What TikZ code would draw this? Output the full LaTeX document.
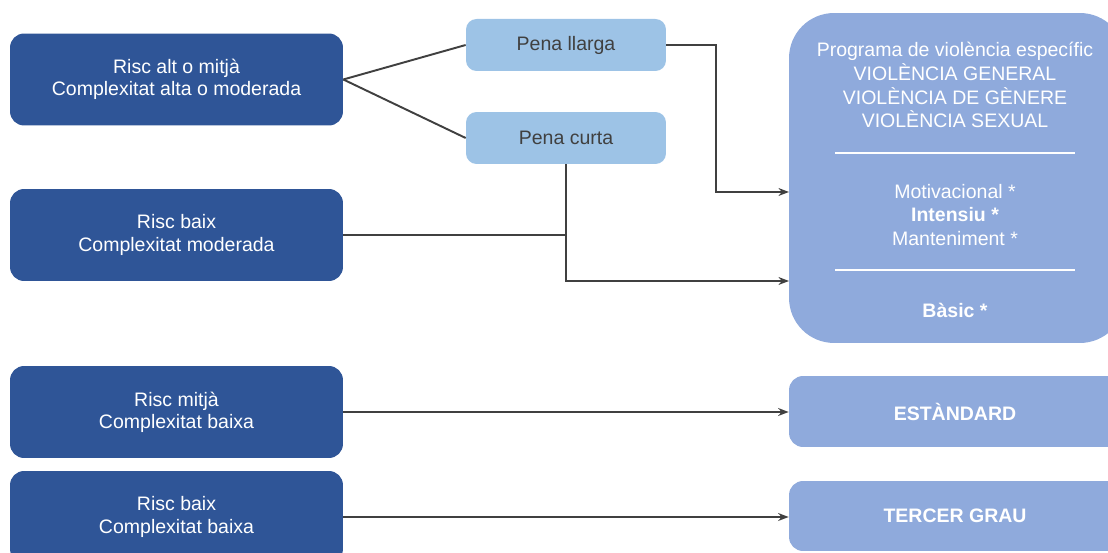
\documentclass[tikz,border=0pt]{standalone}
\usepackage{fontspec}
\setmainfont{Liberation Sans}
\usetikzlibrary{arrows.meta}

\definecolor{fosc}{HTML}{2F5597}
\definecolor{clar}{HTML}{9DC3E6}
\definecolor{prog}{HTML}{8FAADC}
\definecolor{linia}{HTML}{404040}

\tikzset{
  perfil/.style={fill=fosc, text=white, rounded corners=8pt, align=center,
    minimum width=6.66cm, minimum height=1.84cm, inner sep=0pt,
    font=\fontsize{11.1}{12.6}\selectfont},
  pena/.style={fill=clar, text=linia, rounded corners=6pt,
    minimum width=4cm, minimum height=1.04cm, inner sep=0pt,
    font=\fontsize{11.1}{12.6}\selectfont},
  programa/.style={fill=prog, text=white, inner sep=0pt,
    font=\fontsize{11.1}{13.6}\selectfont\bfseries},
  fletxa/.style={draw=linia, line width=1.1pt, -{Stealth[length=6pt,width=4.5pt]}},
  linea/.style={draw=linia, line width=1.1pt},
  txt/.style={text=white, align=center, inner sep=0pt,
    font=\fontsize{11.1}{13.6}\selectfont}
}

\begin{document}
\begin{tikzpicture}[x=0.02cm, y=-0.02cm]
  \useasboundingbox (0,0) rectangle (1108,553);
  \clip (0,0) rectangle (1108,553);

  % perfils
  \node[perfil] (altmitja) at (176.5,79.5) {Risc alt o mitjà\\Complexitat alta o moderada};
  \node[perfil] (baixmod) at (176.5,235) {Risc baix\\Complexitat moderada};
  \node[perfil] (mitjabaixa) at (176.5,412) {Risc mitjà\\Complexitat baixa};
  \node[perfil] (baixbaixa) at (176.5,517) {Risc baix\\Complexitat baixa};

  % penes
  \node[pena] (llarga) at (566,45) {Pena llarga};
  \node[pena] (curta) at (566,138) {Pena curta};

  % programes
  \node[programa, rounded corners=0.9cm, minimum width=6.72cm, minimum height=6.6cm] (especific) at (957,178) {};
  \node[programa, rounded corners=8pt, minimum width=6.64cm, minimum height=1.42cm] (estandard) at (955,411.5) {ESTÀNDARD};
  \node[programa, rounded corners=8pt, minimum width=6.64cm, minimum height=1.4cm] (tercer) at (955,516) {TERCER GRAU};

  \node[txt] (titol) at (955,85) {Programa de violència específic\\VIOLÈNCIA GENERAL\\VIOLÈNCIA DE GÈNERE\\VIOLÈNCIA SEXUAL};
  \draw[white, line width=1.6pt] (835,153) -- (1075,153);
  \node[txt] (moduls) at (955,215) {Motivacional *\\\textbf{Intensiu *}\\Manteniment *};
  \draw[white, line width=1.6pt] (835,270) -- (1075,270);
  \node[txt, font=\fontsize{11.1}{13.6}\selectfont\bfseries] (basic) at (955,310) {Bàsic *};

  \coordinate (entradaA) at (789,192);
  \coordinate (entradaB) at (789,281);

  % connexions
  \draw[linea] (altmitja.east) -- (llarga.west);
  \draw[linea] (altmitja.east) -- (curta.west);
  \draw[fletxa] (llarga.east) -- ++(50,0) |- (entradaA);
  \draw[fletxa] (curta.south) |- (entradaB);
  \draw[linea] (baixmod.east) -- (baixmod.east -| curta.south);
  \draw[fletxa] (mitjabaixa.east) -- (mitjabaixa.east -| especific.west);
  \draw[fletxa] (baixbaixa.east) -- (baixbaixa.east -| especific.west);
\end{tikzpicture}
\end{document}
